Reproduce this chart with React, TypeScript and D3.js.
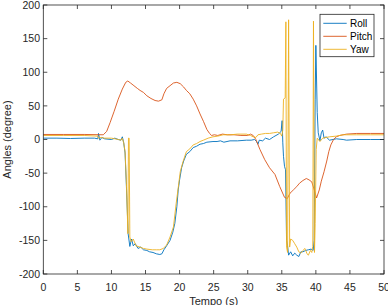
import React from 'react';
import * as d3 from 'd3';

// [time (s), angle (deg)] samples
const roll: [number, number][] = [
  [0, 2], [2, 2], [4, 1.5], [6, 2], [7.5, 2], [8.0, 1], [8.1, 9], [8.3, -1], [8.6, 3], [9, 1],
  [10, 0], [10.5, 2], [11, 0], [11.4, -1], [11.6, 4], [11.8, -5], [12.0, -20], [12.2, -70],
  [12.45, -140], [12.7, -159], [12.95, -148], [13.2, -158], [13.5, -155], [13.9, -162],
  [14.3, -160], [14.7, -164], [15.2, -165], [15.6, -167], [16.1, -168], [16.6, -170],
  [17.1, -171], [17.4, -170], [17.7, -164], [18.1, -158], [18.6, -150], [19.0, -138],
  [19.3, -125], [19.6, -100], [19.8, -75], [20.0, -60], [20.3, -42], [20.6, -32], [21.0, -22],
  [21.5, -18], [22.0, -12], [22.5, -10], [23.0, -7], [23.5, -6], [24, -4], [24.9, -3],
  [25.5, -3], [26, -2], [26.5, -4], [27.4, -2], [28.5, -2], [29.8, -1], [30.5, -1], [31, 0],
  [31.3, -3], [31.5, -7], [31.7, -1], [32.2, -2], [32.6, 2], [33.2, 0], [33.8, 4], [34.5, 8],
  [34.9, 12], [35.05, 28], [35.15, -5], [35.25, -25], [35.4, -40], [35.55, -45], [35.7, -150],
  [35.85, -158], [36.0, -172], [36.3, -167], [36.6, -173], [36.9, -169], [37.2, -172],
  [37.5, -174], [37.8, -167], [38.1, -167], [38.5, -165], [38.9, -164], [39.3, -163],
  [39.6, -165], [39.75, -150], [39.9, 60], [40.0, 140], [40.2, 40], [40.35, 10], [40.6, -2],
  [40.8, 10], [41.0, 14], [41.2, 2], [41.5, 4], [42, -1], [43, 1], [44, 0], [44.5, -1],
  [46, 0], [48, 0], [50, 0],
];

const pitch: [number, number][] = [
  [0, 7.5], [3, 7.5], [6, 7.5], [8.8, 7], [9.3, 12], [9.8, 25], [10.4, 42], [11, 60],
  [11.6, 75], [12.1, 85], [12.4, 87], [12.8, 84], [13.3, 80], [13.8, 76], [14.2, 73],
  [14.7, 70], [15.2, 65], [15.8, 61], [16.4, 58], [16.9, 57], [17.4, 59], [17.7, 68],
  [18.1, 76], [18.6, 80], [19.1, 84], [19.6, 85], [20.1, 83], [20.6, 78], [21.0, 73],
  [21.5, 68], [22.0, 60], [22.5, 50], [23.0, 38], [23.5, 27], [24.0, 15], [24.4, 9],
  [24.7, 6], [25.1, 7], [25.6, 6], [26.3, 8], [27, 7], [28, 7], [29, 6], [30, 6], [30.4, 8],
  [30.8, 6], [31.2, 0], [31.8, -15], [32.5, -30], [33.2, -42], [34.0, -52], [34.7, -70],
  [35.4, -86], [35.8, -88], [36.2, -80], [36.7, -75], [37.2, -70], [37.6, -65], [38.1, -61],
  [38.6, -58], [39.0, -60], [39.4, -63], [39.8, -76], [40.1, -87], [40.5, -75], [40.8, -62],
  [41.2, -48], [41.6, -32], [41.9, -18], [42.2, -8], [42.6, 0], [43.0, 4], [43.5, 6],
  [44.5, 8], [46, 9], [48, 9], [50, 9],
];

const yaw: [number, number][] = [
  [0, 6], [3, 6], [6, 6], [8.0, 5], [8.1, 2], [8.5, 3], [9, 2], [10, 2], [10.5, 1], [11, 0],
  [11.4, -1], [11.6, 2], [11.8, -5], [12.0, -18], [12.2, -65], [12.42, -140], [12.5, 2],
  [12.6, 2], [12.7, -145], [12.9, -152], [13.2, -148], [13.6, -158], [14.2, -160],
  [14.7, -162], [15.2, -163], [16, -164], [16.6, -164], [17.1, -164], [17.6, -162],
  [18.1, -157], [18.6, -145], [19.1, -130], [19.5, -95], [19.8, -72], [20.1, -48],
  [20.5, -33], [21.0, -18], [21.5, -14], [22.0, -8], [22.5, -6], [23.0, -3], [23.5, -1],
  [24.2, 2], [24.9, 4], [25.6, 5], [26.4, 7], [27.5, 7], [28.5, 8], [29.8, 8], [30.4, 6],
  [30.8, 4], [31.2, 3], [31.5, 7], [32, 8], [32.6, 9], [33.2, 9], [33.8, 10], [34.4, 11],
  [34.8, 9], [35.0, 5], [35.15, 14], [35.25, 60], [35.5, 62], [35.6, 175], [35.7, -160],
  [35.85, -168], [36.0, 178], [36.15, -160], [36.3, -148], [36.6, -150], [36.9, -155],
  [37.2, -160], [37.5, -167], [37.8, -169], [38.1, -165], [38.4, -162], [38.7, -170],
  [38.9, -172], [39.2, -165], [39.4, -168], [39.55, -159], [39.65, 176], [39.8, -168],
  [39.9, -125], [40.05, -15], [40.2, 2], [40.6, -3], [41, 2], [41.5, 3], [42, 4], [43, 5],
  [44, 7], [46, 7], [48, 7], [50, 7],
];

const seriesNames = ['Roll', 'Pitch', 'Yaw'];
const seriesColors = ['#0072BD', '#D95319', '#EDB120'];
const xTicks = [0, 5, 10, 15, 20, 25, 30, 35, 40, 45, 50];
const yTicks = [-200, -150, -100, -50, 0, 50, 100, 150, 200];

const W = 388;
const H = 305;
const axisColor = '#262626';
const font = '"Liberation Sans", Arial, sans-serif';

export default function App() {
  const x = d3.scaleLinear().domain([0, 50]).range([43.3, 384]);
  const y = d3.scaleLinear().domain([-200, 200]).range([274, 5]);
  const line = d3.line<[number, number]>()
    .x(d => x(d[0]))
    .y(d => y(d[1]));

  const data = [roll, pitch, yaw];
  const [x0, x1] = x.range();
  const [y0, y1] = y.range();
  const tickLen = 4;

  return (
    <svg width={W} height={H} style={{ position: 'absolute', left: 0, top: 0, background: '#fff' }}
      fontFamily={font}>
      <rect x={0} y={0} width={W} height={H} fill="#fff" />
      <rect x={x0} y={y1} width={x1 - x0} height={y0 - y1} fill="#fff" />

      {/* series */}
      {data.map((d, i) => (
        <path key={seriesNames[i]} d={line(d) ?? ''} fill="none" stroke={seriesColors[i]}
          strokeWidth={0.9} strokeLinejoin="round" />
      ))}

      {/* box and ticks */}
      <rect x={x0} y={y1} width={x1 - x0} height={y0 - y1} fill="none" stroke={axisColor} strokeWidth={0.8} />
      {xTicks.map(t => (
        <g key={'x' + t}>
          <line x1={x(t)} x2={x(t)} y1={y0} y2={y0 - tickLen} stroke={axisColor} strokeWidth={0.8} />
          <line x1={x(t)} x2={x(t)} y1={y1} y2={y1 + tickLen} stroke={axisColor} strokeWidth={0.8} />
          <text x={x(t)} y={290.5} textAnchor="middle" fontSize={10.5} fill={axisColor}>{t}</text>
        </g>
      ))}
      {yTicks.map(t => (
        <g key={'y' + t}>
          <line x1={x0} x2={x0 + tickLen} y1={y(t)} y2={y(t)} stroke={axisColor} strokeWidth={0.8} />
          <line x1={x1} x2={x1 - tickLen} y1={y(t)} y2={y(t)} stroke={axisColor} strokeWidth={0.8} />
          <text x={40} y={y(t)} dy="0.35em" textAnchor="end" fontSize={10.5} fill={axisColor}>{t}</text>
        </g>
      ))}

      {/* axis titles */}
      <text x={(x0 + x1) / 2} y={304.5} textAnchor="middle" fontSize={11} fill={axisColor}>Tempo (s)</text>
      <text transform={`translate(11,${(y0 + y1) / 2}) rotate(-90)`} textAnchor="middle" fontSize={11}
        fill={axisColor}>Angles (degree)</text>

      {/* legend */}
      <g>
        <rect x={320} y={14.3} width={54} height={42.4} fill="#fff" stroke={axisColor} strokeWidth={0.8} />
        {seriesNames.map((n, i) => (
          <g key={n} transform={`translate(0,${23.3 + i * 13})`}>
            <line x1={323.3} x2={346.7} y1={0} y2={0} stroke={seriesColors[i]} strokeWidth={0.9} />
            <text x={350} y={0} dy="0.35em" fontSize={10} fill="#000">{n}</text>
          </g>
        ))}
      </g>
    </svg>
  );
}
